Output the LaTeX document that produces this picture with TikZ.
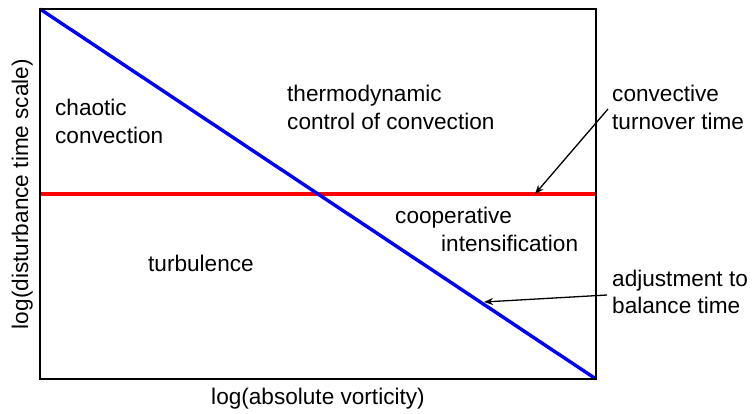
\documentclass[tikz,border=0pt]{standalone}
\usepackage{fontspec}
\setmainfont{Liberation Sans}
\usetikzlibrary{arrows.meta}
\begin{document}
\begin{tikzpicture}[x=1pt,y=-1pt,
  lbl/.style={anchor=base west,inner sep=0pt,font=\fontsize{22.6}{28}\selectfont},
  axlbl/.style={inner sep=0pt,font=\fontsize{22.6}{28}\selectfont},
  frame/.style={line width=2.6pt},
  bluel/.style={draw=blue,line width=3.4pt},
  redl/.style={draw=red,line width=3.4pt},
  pointer/.style={line width=1.3pt,-{Stealth[length=9pt,width=7pt]}}]
\useasboundingbox (0,0) rectangle (753,414);
% frame corners
\coordinate (tl) at (40,9);
\coordinate (tr) at (596,9);
\coordinate (bl) at (40,379);
\coordinate (br) at (596,379);
\coordinate (rl) at (40,194);
\coordinate (rr) at (596,194);
% regime lines
\draw[redl] (rl) -- (rr);
\draw[bluel] (tl) -- (br);
\draw[frame] (tl) rectangle (br);
% region labels
\node[lbl] (ch1) at (55,116) {chaotic};
\node[lbl] (ch2) at (55,144) {convection};
\node[lbl] (th1) at (287,102) {thermodynamic};
\node[lbl] (th2) at (287,130) {control of convection};
\node[lbl] (tu) at (148,272) {turbulence};
\node[lbl] (co1) at (395,224) {cooperative};
\node[lbl] (co2) at (441,252) {intensification};
% line labels
\node[lbl] (cv1) at (612,102) {convective};
\node[lbl] (cv2) at (612,130) {turnover time};
\node[lbl] (ad1) at (612,287) {adjustment to};
\node[lbl] (ad2) at (612,314) {balance time};
% axis labels
\node[axlbl,anchor=base] (xl) at (318,404) {log(absolute vorticity)};
\node[axlbl,anchor=base,rotate=90] (yl) at (28,194) {log(disturbance time scale)};
% pointers
\coordinate (cvs) at (608,109);
\coordinate (cve) at (535,194);
\coordinate (ads) at (607,295);
\coordinate (ade) at (484,302);
\draw[pointer] (cvs) -- (cve);
\draw[pointer] (ads) -- (ade);
\end{tikzpicture}
\end{document}
